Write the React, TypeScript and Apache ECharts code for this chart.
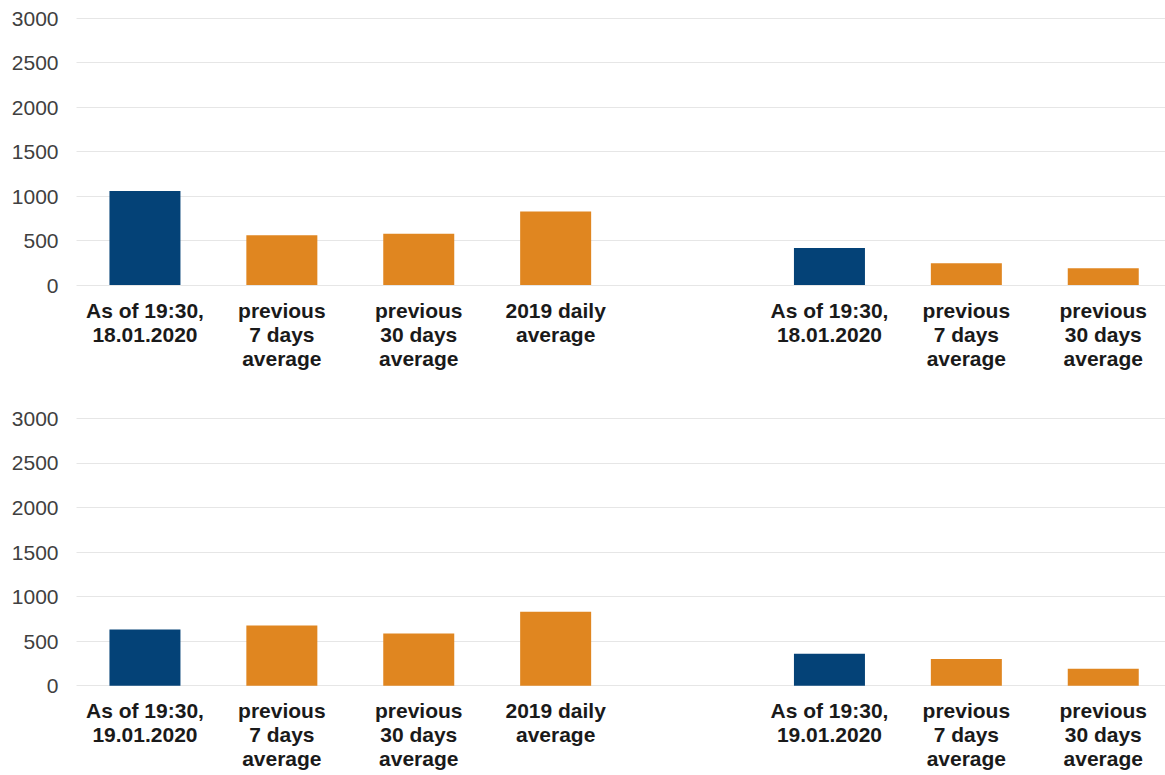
import React, { useEffect, useRef } from "react";
import * as echarts from "echarts";

const categoriesTop = [
  "As of 19:30,\n18.01.2020",
  "previous\n7 days\naverage",
  "previous\n30 days\naverage",
  "2019 daily\naverage",
  "",
  "As of 19:30,\n18.01.2020",
  "previous\n7 days\naverage",
  "previous\n30 days\naverage",
];
const categoriesBottom = [
  "As of 19:30,\n19.01.2020",
  "previous\n7 days\naverage",
  "previous\n30 days\naverage",
  "2019 daily\naverage",
  "",
  "As of 19:30,\n19.01.2020",
  "previous\n7 days\naverage",
  "previous\n30 days\naverage",
];
const valuesTop = [1055, 559, 577, 827, null, 415, 244, 189];
const valuesBottom = [630, 674, 585, 830, null, 359, 300, 189];
const yTicks = { min: 0, max: 3000, interval: 500 };

const BLUE = "#044277";
const ORANGE = "#E08620";
const FONT = "'Liberation Sans', Arial, sans-serif";

function colorFor(name: string) {
  return name.startsWith("As of") ? BLUE : ORANGE;
}

export default function App() {
  const ref = useRef<HTMLDivElement>(null);
  useEffect(() => {
    if (!ref.current) return;
    const chart = echarts.init(ref.current, null, { renderer: "svg" });
    const xAxisBase = {
      type: "category" as const,
      axisLine: { show: false },
      axisTick: { show: false },
      axisLabel: {
        interval: 0,
        fontSize: 21,
        fontWeight: "bold" as const,
        color: "#1a1a1a",
        fontFamily: FONT,
        lineHeight: 24,
        margin: 13,
      },
    };
    const yAxisBase = {
      type: "value" as const,
      ...yTicks,
      axisLine: { show: false },
      axisTick: { show: false },
      axisLabel: {
        fontSize: 21,
        color: "#404040",
        fontFamily: FONT,
        margin: 18,
        formatter: (v: number) => String(v),
      },
      splitLine: { show: true, lineStyle: { color: "#e6e6e6", width: 1 } },
    };
    const mkData = (vals: (number | null)[], cats: string[]) =>
      vals.map((v, i) => ({ value: v, itemStyle: { color: colorFor(cats[i]) } }));
    chart.setOption({
      animation: false,
      grid: [
        { left: 76.5, right: -6.7, top: 18, height: 267, outerBoundsMode: "none", containLabel: false },
        { left: 76.5, right: -6.7, top: 418.3, height: 267.4, outerBoundsMode: "none", containLabel: false },
      ],
      xAxis: [
        { ...xAxisBase, gridIndex: 0, data: categoriesTop },
        { ...xAxisBase, gridIndex: 1, data: categoriesBottom },
      ],
      yAxis: [
        { ...yAxisBase, gridIndex: 0 },
        { ...yAxisBase, gridIndex: 1 },
      ],
      series: [
        { type: "bar", xAxisIndex: 0, yAxisIndex: 0, barWidth: 71, data: mkData(valuesTop, categoriesTop) },
        { type: "bar", xAxisIndex: 1, yAxisIndex: 1, barWidth: 71, data: mkData(valuesBottom, categoriesBottom) },
      ],
    });
    return () => chart.dispose();
  }, []);
  return (
    <div
      ref={ref}
      style={{ position: "absolute", left: 0, top: 0, width: 1165, height: 775, background: "#fff" }}
    />
  );
}
